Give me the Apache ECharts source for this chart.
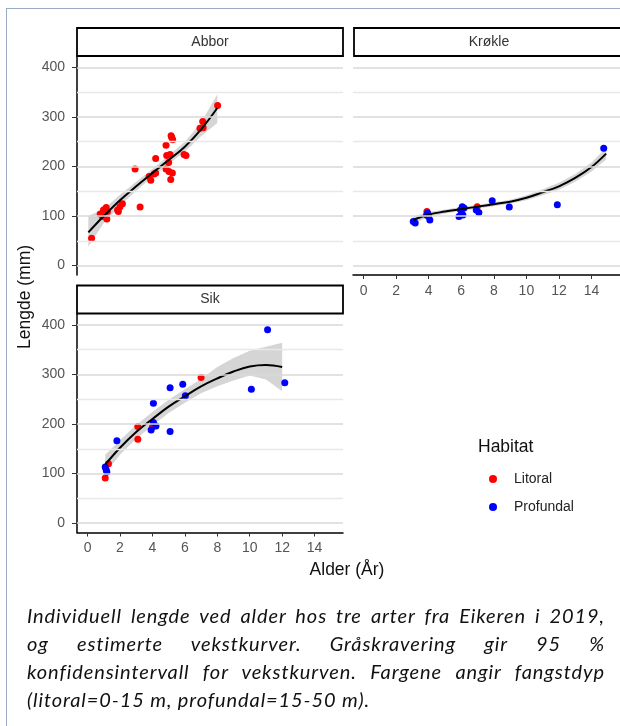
<!DOCTYPE html>
<html>
<head>
<meta charset="utf-8">
<script src="https://cdn.jsdelivr.net/npm/echarts@6.0.0/dist/echarts.min.js"></script>
<style>
  html, body { margin: 0; padding: 0; background: #fff; }
  #wrap { position: relative; width: 620px; height: 726px; overflow: hidden; }
  #frame { position: absolute; left: 6px; top: 8px; width: 700px; height: 800px;
           border-left: 1.5px solid #9aabc4; border-top: 1.5px solid #9aabc4; }
  #chart { position: absolute; left: 0; top: 0; width: 620px; height: 726px; }
  #caption { position: absolute; left: 27px; top: 601px; width: 578px;
             font: italic 20px Lato, "Open Sans", sans-serif; letter-spacing: 0.9px;
             line-height: 28px; color: #111; }
  #caption .j { text-align: justify; text-align-last: justify; }
</style>
</head>
<body>
<div id="wrap">
  <div id="frame"></div>
  <div id="chart"></div>
  <div id="caption">
    <div class="j">Individuell lengde ved alder hos tre arter fra Eikeren i 2019,</div>
    <div class="j">og estimerte vekstkurver. Gråskravering gir 95 %</div>
    <div class="j">konfidensintervall for vekstkurven. Fargene angir fangstdyp</div>
    <div>(litoral=0-15 m, profundal=15-50 m).</div>
  </div>
</div>
<script>
// Lengde ved alder, tre arter (Abbor, Krøkle, Sik), Eikeren 2019.
// Punkter farget etter habitat, svart vekstkurve med 95 % konfidensbånd.

const ageTicks    = [0, 2, 4, 6, 8, 10, 12, 14];
const lengthTicks = [0, 100, 200, 300, 400];
const lengthMinor = [50, 150, 250, 350];

// Abbor – bare litoral
const abborAge = [0.25, 0.78, 0.98, 1.15, 1.19, 1.23, 0.92, 1.9, 2.0, 2.15, 1.85, 2.93, 3.24,
                  3.8, 3.9, 4.1, 4.2, 4.2, 4.84, 5.15, 5.25, 5.19, 4.88, 5.09, 5.0, 4.84,
                  5.02, 5.13, 5.23, 5.95, 6.07, 7.1, 6.93, 7.13, 8.02];
const abborLen = [55, 104, 112, 117, 94, 109, 99, 109, 119, 125, 112, 195, 118,
                  180, 172, 185, 187, 216, 243, 262, 254, 259, 222, 224, 208, 195,
                  190, 174, 187, 224, 222, 291, 277, 278, 323];
const abborFitAge = [0.05, 1, 2, 3, 4, 5, 6, 7, 8];
const abborFit    = [67, 100, 132, 160, 187, 213, 240, 275, 318];
const abborLo     = [38, 86, 121, 151, 179, 205, 230, 261, 288];
const abborHi     = [100, 114, 143, 169, 195, 222, 250, 289, 346];

// Krøkle
const krokleLitAge  = [3.89, 6.98];
const krokleLitLen  = [109, 119];
const krokleProAge  = [3.05, 3.17, 3.93, 3.99, 4.07, 3.87, 5.86, 6.02, 6.17, 5.96, 6.1, 6.06,
                       6.92, 7.08, 7.9, 8.95, 11.9, 14.75];
const krokleProLen  = [89, 86, 106, 99, 92, 102, 99, 106, 116, 112, 102, 119,
                       112, 107, 131, 118, 123, 237];
const krokleFitAge  = [3.05, 4, 5, 6, 7, 8, 9, 10, 11, 12, 13, 14, 14.9];
const krokleFit     = [92, 103, 109, 114, 119, 124, 129, 137, 148, 160, 177, 199, 226];
const krokleLo      = [85, 98, 105, 110, 115, 120, 125, 132, 142, 153, 169, 190, 214];
const krokleHi      = [99, 108, 113, 118, 123, 128, 133, 142, 154, 167, 185, 208, 238];

// Sik
const sikLitAge = [1.09, 1.29, 3.1, 3.1, 4.0, 7.0];
const sikLitLen = [91, 120, 195, 169, 194, 294];
const sikProAge = [1.09, 1.15, 1.19, 1.81, 4.06, 4.06, 4.22, 3.92, 5.09, 5.09, 5.87, 6.03,
                   10.1, 11.1, 12.16];
const sikProLen = [113, 107, 103, 166, 242, 203, 196, 188, 185, 273, 280, 257,
                   270, 390, 283];
const sikFitAge = [1.09, 2, 3, 4, 5, 6, 7, 8, 9, 10, 11, 12];
const sikFit    = [118, 152, 184, 210, 235, 256, 276, 292, 306, 316, 319, 315];
const sikLo     = [100, 138, 170, 197, 222, 243, 262, 276, 288, 298, 290, 266];
const sikHi     = [138, 167, 198, 224, 249, 270, 291, 315, 333, 348, 356, 364];

const FONT = '"Liberation Sans", Arial, sans-serif';
const zip = (xs, ys) => xs.map((x, i) => [x, ys[i]]);

function xAxisFor(gi, show) {
  return {
    gridIndex: gi, type: 'value', min: -0.65, max: 15.75, show,
    axisLine: { onZero: false, lineStyle: { color: '#000', width: 1.5 } },
    axisTick: { customValues: ageTicks, length: 4, lineStyle: { color: '#333' } },
    axisLabel: { customValues: ageTicks, color: '#555', fontSize: 14, fontFamily: FONT, margin: 9 },
    splitLine: { show: false },
  };
}

function yAxisFor(gi, show) {
  return {
    gridIndex: gi, type: 'value', min: -19, max: 421, show,
    axisLine: { show: true, onZero: false, lineStyle: { color: '#000', width: 1.5 } },
    axisTick: { customValues: lengthTicks, length: 5, lineStyle: { color: '#333' } },
    axisLabel: { customValues: lengthTicks, color: '#555', fontSize: 14, fontFamily: FONT, margin: 12 },
    splitLine: { show: false },
  };
}

// horisontale hjelpelinjer (hoved + mindre) som markLine på tom serie
function gridLines(gi) {
  return {
    type: 'line', xAxisIndex: gi, yAxisIndex: gi, data: [], z: 1, silent: true,
    markLine: {
      silent: true, animation: false, symbol: ['none', 'none'], label: { show: false },
      data: [
        ...lengthMinor.map(v => ({ yAxis: v, lineStyle: { color: '#e8e8e8', width: 1.3, type: 'solid' } })),
        ...lengthTicks.map(v => ({ yAxis: v, lineStyle: { color: '#d9d9d9', width: 1.6, type: 'solid' } })),
      ],
    },
  };
}

function band(gi, xs, lo, hi) {
  return {
    type: 'custom', xAxisIndex: gi, yAxisIndex: gi, z: 2, silent: true,
    data: xs.map((x, i) => [x, lo[i], hi[i]]),
    renderItem: (params, api) => {
      if (params.dataIndex !== 0) return null;
      const pts = [];
      xs.forEach((x, i) => pts.push(api.coord([x, hi[i]])));
      for (let i = xs.length - 1; i >= 0; i--) pts.push(api.coord([xs[i], lo[i]]));
      return { type: 'polygon', shape: { points: pts }, style: { fill: '#d5d5d5' } };
    },
  };
}

function points(gi, name, xs, ys, color) {
  return {
    type: 'scatter', name, xAxisIndex: gi, yAxisIndex: gi, data: zip(xs, ys),
    symbol: 'circle', symbolSize: 7, itemStyle: { color, opacity: 1 }, z: 3, silent: true,
  };
}

function fit(gi, xs, ys) {
  return {
    type: 'line', xAxisIndex: gi, yAxisIndex: gi, data: zip(xs, ys), smooth: 0.4,
    showSymbol: false, symbol: 'none', lineStyle: { color: '#000', width: 2 }, z: 4, silent: true,
  };
}

function strip(x, y, w, h, label) {
  return [
    { type: 'rect', shape: { x, y, width: w, height: h }, style: { fill: '#fff', stroke: '#000', lineWidth: 1.8 } },
    { type: 'text', x: x + w / 2, y: y + h / 2,
      style: { text: label, align: 'center', verticalAlign: 'middle', fontSize: 14, fontFamily: FONT, fill: '#333' } },
  ];
}

const RED = '#ff0000', BLUE = '#0000ff';

const chart = echarts.init(document.getElementById('chart'), null, { renderer: 'canvas' });
chart.setOption({
  animation: false,
  backgroundColor: 'transparent',
  grid: [
    { left: 77, top: 57, width: 266, height: 218, containLabel: false, outerBoundsMode: 'none' },
    { left: 353, top: 57, width: 267, height: 218, containLabel: false, outerBoundsMode: 'none' },
    { left: 77, top: 314.5, width: 266, height: 218, containLabel: false, outerBoundsMode: 'none' },
  ],
  xAxis: [xAxisFor(0, false), xAxisFor(1, true), xAxisFor(2, true)],
  yAxis: [yAxisFor(0, true), yAxisFor(1, false), yAxisFor(2, true)],
  legend: {
    data: ['Litoral', 'Profundal'], orient: 'vertical', left: 484, top: 467,
    icon: 'circle', itemWidth: 8, itemHeight: 8, itemGap: 14, selectedMode: false,
    textStyle: { fontSize: 14, fontFamily: FONT, color: '#222', padding: [0, 0, 0, 12] },
  },
  graphic: [
    ...strip(77, 28, 266, 28, 'Abbor'),
    ...strip(354, 28, 270, 28, 'Krøkle'),
    ...strip(77, 285.5, 266, 28, 'Sik'),
    { type: 'text', x: 25, y: 297, rotation: Math.PI / 2,
      style: { text: 'Lengde (mm)', align: 'center', verticalAlign: 'middle', fontSize: 17.5, fontFamily: FONT, fill: '#111' } },
    { type: 'text', x: 347, y: 570,
      style: { text: 'Alder (År)', align: 'center', verticalAlign: 'middle', fontSize: 17.5, fontFamily: FONT, fill: '#111' } },
    { type: 'text', x: 478, y: 447,
      style: { text: 'Habitat', align: 'left', verticalAlign: 'middle', fontSize: 17.5, fontFamily: FONT, fill: '#111' } },
  ],
  series: [
    gridLines(0), gridLines(1), gridLines(2),
    band(0, abborFitAge, abborLo, abborHi),
    band(1, krokleFitAge, krokleLo, krokleHi),
    band(2, sikFitAge, sikLo, sikHi),
    points(0, 'Litoral', abborAge, abborLen, RED),
    points(1, 'Litoral', krokleLitAge, krokleLitLen, RED),
    points(1, 'Profundal', krokleProAge, krokleProLen, BLUE),
    points(2, 'Litoral', sikLitAge, sikLitLen, RED),
    points(2, 'Profundal', sikProAge, sikProLen, BLUE),
    fit(0, abborFitAge, abborFit),
    fit(1, krokleFitAge, krokleFit),
    fit(2, sikFitAge, sikFit),
  ],
});
</script>
</body>
</html>
